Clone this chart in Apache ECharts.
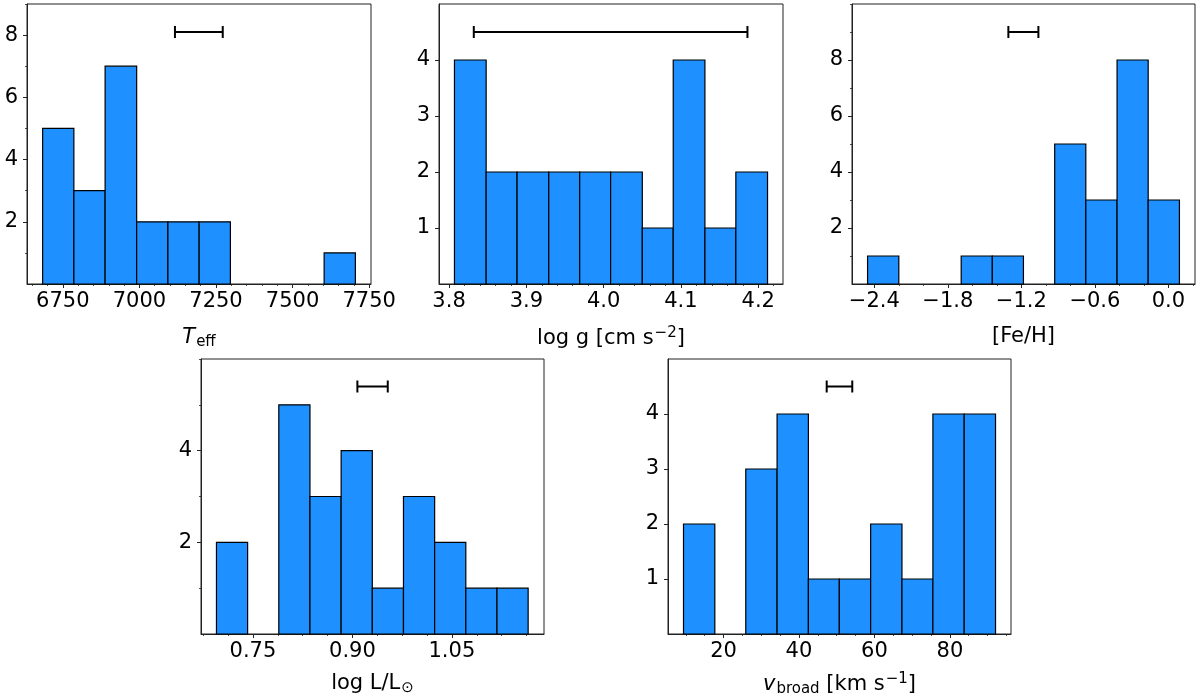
<!DOCTYPE html>
<html><head><meta charset="utf-8">
<script src="https://cdn.jsdelivr.net/npm/echarts@6/dist/echarts.min.js"></script>
<style>html,body{margin:0;padding:0;background:#fff}#c{width:1200px;height:700px}</style>
</head><body><div id="c"></div>
<script>
// ---- data ----
const teffEdges = [6684, 6786, 6888, 6991, 7093, 7195, 7297, 7399, 7501, 7603, 7705];
const teffCounts = [5, 3, 7, 2, 2, 2, 0, 0, 0, 1];
const teffTicks = [6750, 7000, 7250, 7500, 7750];
const teffErr = [7116, 7272];

const loggEdges = [3.807, 3.848, 3.888, 3.929, 3.969, 4.009, 4.050, 4.090, 4.131, 4.171, 4.212];
const loggCounts = [4, 2, 2, 2, 2, 2, 1, 4, 1, 2];
const loggTicks = [3.8, 3.9, 4.0, 4.1, 4.2];
const loggErr = [3.832, 4.186];

const fehEdges = [-2.455, -2.200, -1.946, -1.691, -1.437, -1.183, -0.928, -0.674, -0.419, -0.165, 0.090];
const fehCounts = [1, 0, 0, 1, 1, 0, 5, 3, 8, 3];
const fehTicks = [-2.4, -1.8, -1.2, -0.6, 0.0];
const fehErr = [-1.306, -1.061];

const loglEdges = [0.695, 0.742, 0.789, 0.836, 0.883, 0.930, 0.977, 1.024, 1.071, 1.118, 1.165];
const loglCounts = [2, 0, 5, 3, 4, 1, 3, 2, 1, 1];
const loglTicks = [0.75, 0.90, 1.05];
const loglErr = [0.9075, 0.9533];

const vbEdges = [9.4, 17.7, 25.9, 34.2, 42.5, 50.7, 59.0, 67.3, 75.5, 83.8, 92.1];
const vbCounts = [2, 0, 3, 4, 1, 1, 2, 1, 4, 4];
const vbTicks = [20, 40, 60, 80];
const vbErr = [47.35, 54.13];

const yTicksA = [2, 4, 6, 8];
const yTicksB = [1, 2, 3, 4];
const yTicksC = [2, 4];

// ---- layout ----
const FONT = 'DejaVu Sans';
const FS = 21;
const panels = [
  {edges: teffEdges, counts: teffCounts, ticks: teffTicks, err: teffErr, xmin: 6633, xmax: 7756, minorStep: 50, dec: 0,
   ymax: 9, yticks: yTicksA, yminorStep: 1, left: 27, top: 4, width: 344, height: 280, gap: 42,
   name: '{it|T}{sub|eff}'},
  {edges: loggEdges, counts: loggCounts, ticks: loggTicks, err: loggErr, xmin: 3.787, xmax: 4.232, minorStep: 0.02, dec: 1,
   ymax: 5, yticks: yTicksB, yminorStep: 0, left: 439, top: 4, width: 344, height: 280, gap: 42,
   name: '{n|log g [cm s}{sup|\u22122}{n|]}'},
  {edges: fehEdges, counts: fehCounts, ticks: fehTicks, err: fehErr, xmin: -2.582, xmax: 0.217, minorStep: 0.2, dec: 1,
   ymax: 10, yticks: yTicksA, yminorStep: 1, left: 852, top: 4, width: 343, height: 280, gap: 42,
   name: '[Fe/H]'},
  {edges: loglEdges, counts: loglCounts, ticks: loglTicks, err: loglErr, xmin: 0.6717, xmax: 1.1889, minorStep: 0.0375, dec: 2,
   ymax: 6, yticks: yTicksC, yminorStep: 1, left: 201, top: 359, width: 343, height: 275, gap: 38,
   name: '{n|log L/L}{sub|\u2299}'},
  {edges: vbEdges, counts: vbCounts, ticks: vbTicks, err: vbErr, xmin: 5.29, xmax: 96.2, minorStep: 5, dec: 0,
   ymax: 5, yticks: yTicksB, yminorStep: 0, left: 668, top: 359, width: 343, height: 275, gap: 38,
   name: '{it|v}{sub|broad}{n| [km s}{sup|\u22121}{n|]}'}
];

function multiples(lo, hi, step) {
  const out = [];
  if (!step) return out;
  const k0 = Math.ceil(lo / step - 1e-9), k1 = Math.floor(hi / step + 1e-9);
  for (let k = k0; k <= k1; k++) out.push(+(k * step).toFixed(6));
  return out;
}
function fmt(v, dec) {
  const s = Math.abs(v).toFixed(dec);
  return (v < -1e-9 ? '\u2212' : '') + s;
}

const rich = {
  n: {fontSize: FS, fontFamily: FONT, color: '#000'},
  it: {fontSize: FS, fontFamily: FONT, fontStyle: 'italic', color: '#000'},
  sub: {fontSize: 15, fontFamily: FONT, color: '#000', padding: [9, 0, 0, 1]},
  sup: {fontSize: 15, fontFamily: FONT, color: '#000', padding: [0, 0, 10, 1]}
};

const grid = [], xAxis = [], yAxis = [], series = [];
panels.forEach((p, i) => {
  grid.push({left: p.left, top: p.top, width: p.width, height: p.height, show: true,
             borderColor: '#222', borderWidth: 1, backgroundColor: 'transparent'});
  // main x axis
  xAxis.push({gridIndex: i, type: 'value', min: p.xmin, max: p.xmax, position: 'bottom',
    axisLine: {show: true, onZero: false, lineStyle: {color: '#222', width: 1}},
    axisTick: {show: true, length: 4, customValues: p.ticks, lineStyle: {color: '#222', width: 1}},
    axisLabel: {customValues: p.ticks, formatter: v => fmt(v, p.dec), fontSize: FS, fontFamily: FONT, color: '#000', margin: 7},
    splitLine: {show: false},
    name: p.name, nameLocation: 'middle', nameGap: p.gap,
    nameTextStyle: {fontSize: FS, fontFamily: FONT, color: '#000', rich: rich}});
  // minor x ticks
  xAxis.push({gridIndex: i, type: 'value', min: p.xmin, max: p.xmax, position: 'bottom',
    axisLine: {show: false, onZero: false},
    axisTick: {show: true, length: 2, customValues: multiples(p.xmin, p.xmax, p.minorStep), lineStyle: {color: '#222', width: 0.8}},
    axisLabel: {show: false}, splitLine: {show: false}});
  yAxis.push({gridIndex: i, type: 'value', min: 0, max: p.ymax, position: 'left',
    axisLine: {show: true, onZero: false, lineStyle: {color: '#222', width: 1}},
    axisTick: {show: true, length: 4, customValues: p.yticks, lineStyle: {color: '#222', width: 1}},
    axisLabel: {customValues: p.yticks, fontSize: FS, fontFamily: FONT, color: '#000', margin: 9},
    splitLine: {show: false}});
  yAxis.push({gridIndex: i, type: 'value', min: 0, max: p.ymax, position: 'left',
    axisLine: {show: false, onZero: false},
    axisTick: {show: p.yminorStep > 0, length: 2,
      customValues: multiples(0, p.ymax, p.yminorStep).filter(v => p.yticks.indexOf(v) < 0 && v > 0),
      lineStyle: {color: '#222', width: 0.8}},
    axisLabel: {show: false}, splitLine: {show: false}});

  const bars = [];
  p.counts.forEach((c, j) => { if (c > 0) bars.push([p.edges[j], p.edges[j + 1], c]); });
  series.push({type: 'custom', xAxisIndex: 2 * i, yAxisIndex: 2 * i, data: bars,
    encode: {x: [0, 1], y: 2},
    renderItem: (params, api) => {
      const a = api.coord([api.value(0), api.value(2)]);
      const b = api.coord([api.value(1), 0]);
      return {type: 'rect', shape: {x: a[0], y: a[1], width: b[0] - a[0], height: b[1] - a[1]},
        style: {fill: '#1e90ff', stroke: '#000', lineWidth: 1.2}};
    }, silent: true});
  series.push({type: 'custom', xAxisIndex: 2 * i, yAxisIndex: 2 * i,
    data: [[p.err[0], p.err[1], 0.9 * p.ymax]], encode: {x: [0, 1], y: 2},
    renderItem: (params, api) => {
      const a = api.coord([api.value(0), api.value(2)]);
      const b = api.coord([api.value(1), api.value(2)]);
      const h = 6, st = {stroke: '#000', lineWidth: 2};
      return {type: 'group', children: [
        {type: 'line', shape: {x1: a[0], y1: a[1], x2: b[0], y2: b[1]}, style: st},
        {type: 'line', shape: {x1: a[0], y1: a[1] - h, x2: a[0], y2: a[1] + h}, style: st},
        {type: 'line', shape: {x1: b[0], y1: b[1] - h, x2: b[0], y2: b[1] + h}, style: st}
      ]};
    }, silent: true});
});

const chart = echarts.init(document.getElementById('c'), null, {renderer: 'canvas'});
chart.setOption({animation: false, backgroundColor: '#fff', grid, xAxis, yAxis, series});
</script></body></html>
